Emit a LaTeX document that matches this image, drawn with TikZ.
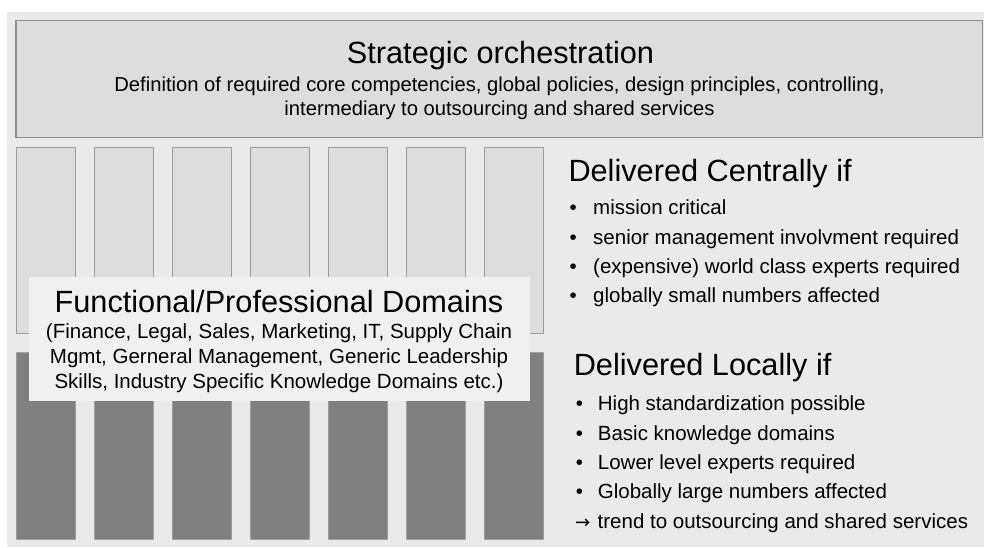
\documentclass[tikz,border=0pt]{standalone}
\usepackage{fontspec}
\setmainfont{Liberation Sans}
\newfontfamily\arrowfont{DejaVu Sans}
\definecolor{bgc}{HTML}{EAEAEA}
\definecolor{topfill}{HTML}{DDDDDD}
\definecolor{topborder}{HTML}{8E8E8E}
\definecolor{lightfill}{HTML}{DDDDDD}
\definecolor{lightborder}{HTML}{9C9C9C}
\definecolor{darkfill}{HTML}{808080}
\definecolor{darkborder}{HTML}{A0A0A0}
\definecolor{boxfill}{HTML}{F0F0F0}
\begin{document}
\begin{tikzpicture}[x=1pt,y=-1pt]
\tikzset{
  bigtxt/.style={inner sep=0pt, font=\fontsize{30.7}{36}\selectfont},
  smalltxt/.style={inner sep=0pt, font=\fontsize{20.5}{24}\selectfont},
  deftxt/.style={inner sep=0pt, font=\fontsize{20.2}{24}\selectfont},
  lightcol/.style={fill=lightfill, draw=lightborder, line width=1.1pt},
  darkcol/.style={fill=darkfill, draw=darkborder, line width=0.9pt},
  topbox/.style={fill=topfill, draw=topborder, line width=1.4pt},
  whitebox/.style={fill=boxfill},
}
\useasboundingbox (0,0) rectangle (984,547);
\fill[bgc] (7.3,12) rectangle (984,547);
% top box
\draw[topbox] (16,20.7) rectangle (982.3,137.7);
\node[bigtxt, anchor=base] (strat) at (500.5,63.3) {Strategic orchestration};
\node[deftxt, anchor=base] (def1) at (499.5,91.7) {Definition of required core competencies, global policies, design principles, controlling,};
\node[deftxt, anchor=base] (def2) at (499.5,115) {intermediary to outsourcing and shared services};
% columns
\foreach \i in {0,...,6} {
  \draw[lightcol] ({16.3+78.1*\i},147.3) rectangle ++(58.8,186);
  \draw[darkcol] ({16.3+78.1*\i},352.8) rectangle ++(58.8,186.3);
}
% white box
\fill[whitebox] (28.6,277) rectangle (529.5,401);
\node[bigtxt, anchor=base] (func) at (279,312) {Functional/Professional Domains};
\node[smalltxt, anchor=base] (f1) at (279,338) {(Finance, Legal, Sales, Marketing, IT, Supply Chain};
\node[smalltxt, anchor=base] (f2) at (279,363) {Mgmt, Gerneral Management, Generic Leadership};
\node[smalltxt, anchor=base] (f3) at (279,388) {Skills, Industry Specific Knowledge Domains etc.)};
% centrally
\node[bigtxt, anchor=base west] (cent) at (568.3,181.7) {Delivered Centrally if};
\foreach \t/\y [count=\k] in {mission critical/214, senior management involvment required/244, (expensive) world class experts required/273.3, globally small numbers affected/302.7} {
  \node[smalltxt, anchor=base west] (cb\k) at (569.4,\y) {•};
  \node[smalltxt, anchor=base west] (ct\k) at (593,\y) {\t};
}
% locally
\node[bigtxt, anchor=base west] (loc) at (573.6,375) {Delivered Locally if};
\foreach \t/\y [count=\k] in {High standardization possible/410, Basic knowledge domains/440, Lower level experts required/469.3, Globally large numbers affected/498.3} {
  \node[smalltxt, anchor=base west] (lb\k) at (575.7,\y) {•};
  \node[smalltxt, anchor=base west] (lt\k) at (597.7,\y) {\t};
}
\node[inner sep=0pt, anchor=base west, font=\arrowfont\fontsize{18}{20}\selectfont] (larrow) at (575,528.3) {→};
\node[smalltxt, anchor=base west] (ltrend) at (597.5,528.3) {trend to outsourcing and shared services};
\end{tikzpicture}
\end{document}
